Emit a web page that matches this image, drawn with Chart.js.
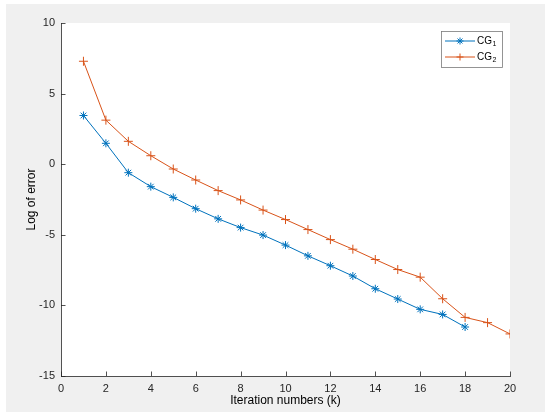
<!DOCTYPE html>
<html>
<head>
<meta charset="utf-8">
<script src="https://cdn.jsdelivr.net/npm/chart.js@4/dist/chart.umd.min.js"></script>
<style>
  body { margin: 0; background: #ffffff; }
  #wrap { width: 550px; height: 417px; }
</style>
</head>
<body>
<div id="wrap"><canvas id="errChart"></canvas></div>
<script>
let iterations1 = [1, 2, 3, 4, 5, 6, 7, 8, 9, 10, 11, 12, 13, 14, 15, 16, 17, 18];
let cg1Errors = [3.45, 1.48, -0.6, -1.59, -2.35, -3.15, -3.87, -4.49, -5.02, -5.73, -6.49, -7.19, -7.92, -8.82, -9.55, -10.28, -10.64, -11.53];
let iterations2 = [1, 2, 3, 4, 5, 6, 7, 8, 9, 10, 11, 12, 13, 14, 15, 16, 17, 18, 19, 20];
let cg2Errors = [7.29, 3.12, 1.62, 0.6, -0.34, -1.12, -1.87, -2.53, -3.25, -3.92, -4.63, -5.34, -6.02, -6.75, -7.46, -8.0, -9.53, -10.85, -11.22, -12.02];
let xTicks = [0, 2, 4, 6, 8, 10, 12, 14, 16, 18, 20];
let yTicks = [-15, -10, -5, 0, 5, 10];

let blue = "#0072BD";
let orange = "#D95319";
let axisColor = "#262626";
let fontName = "'Liberation Sans', Arial, sans-serif";

function toPoints(xs, ys){
    let pts = [];
    for(let i = 0; i < xs.length; i++){
        pts.push({x: xs[i], y: ys[i]});
    }
    return pts;
}

// grey figure background + white axes area
let backgroundPlugin = {
    id: "bg",
    beforeDraw(chart){
        let ctx = chart.ctx;
        let a = chart.chartArea;
        ctx.save();
        ctx.fillStyle = "#ffffff";
        ctx.fillRect(0, 0, chart.width, chart.height);
        ctx.fillStyle = "#f0f0f0";
        ctx.fillRect(6, 4, 539, 408);
        ctx.fillStyle = "#ffffff";
        ctx.fillRect(a.left, a.top, a.right - a.left, a.bottom - a.top);
        ctx.restore();
    }
};

// matlab style ticks pointing inward, and the boxed legend
let extrasPlugin = {
    id: "extras",
    afterDraw(chart){
        let ctx = chart.ctx;
        let a = chart.chartArea;
        let xs = chart.scales.x;
        let ys = chart.scales.y;
        ctx.save();
        ctx.strokeStyle = axisColor;
        ctx.lineWidth = 0.8;
        ctx.beginPath();
        for(let i = 0; i < xTicks.length; i++){
            let px = Math.round(xs.getPixelForValue(xTicks[i])) + 0.5;
            ctx.moveTo(px, a.bottom);
            ctx.lineTo(px, a.bottom - 4.5);
        }
        for(let i = 0; i < yTicks.length; i++){
            let py = Math.round(ys.getPixelForValue(yTicks[i])) + 0.5;
            ctx.moveTo(a.left, py);
            ctx.lineTo(a.left + 4.5, py);
        }
        ctx.stroke();

        // legend
        let lx = 441, ly = 31, lw = 61, lh = 36;
        ctx.fillStyle = "#ffffff";
        ctx.fillRect(lx, ly, lw, lh);
        ctx.strokeStyle = "#7a7a7a";
        ctx.lineWidth = 0.8;
        ctx.strokeRect(lx + 0.5, ly + 0.5, lw, lh);

        let rows = [
            {color: blue, style: "star", sub: "1", y: 41},
            {color: orange, style: "cross", sub: "2", y: 57}
        ];
        for(let i = 0; i < rows.length; i++){
            let r = rows[i];
            ctx.strokeStyle = r.color;
            ctx.lineWidth = 1;
            ctx.beginPath();
            ctx.moveTo(445, r.y);
            ctx.lineTo(475, r.y);
            ctx.stroke();
            Chart.helpers.drawPoint(ctx, {pointStyle: r.style, radius: 3.5, borderWidth: 1}, 460, r.y);
            ctx.fillStyle = "#000000";
            ctx.textBaseline = "middle";
            ctx.textAlign = "left";
            ctx.font = "10px " + fontName;
            ctx.fillText("CG", 477, r.y);
            let w = ctx.measureText("CG").width;
            ctx.font = "7px " + fontName;
            ctx.fillText(r.sub, 477 + w + 0.5, r.y + 3);
        }
        ctx.restore();
    }
};

let errChart = new Chart(document.getElementById("errChart"),
{
    type: "line",
    data: {
        datasets: [
            {
                label: "CG1",
                data: toPoints(iterations1, cg1Errors),
                borderColor: blue,
                backgroundColor: blue,
                borderWidth: 1,
                pointStyle: "star",
                pointRadius: 4,
                pointBorderWidth: 1,
                pointHoverRadius: 4,
                fill: false,
                tension: 0
            },
            {
                label: "CG2",
                data: toPoints(iterations2, cg2Errors),
                borderColor: orange,
                backgroundColor: orange,
                borderWidth: 1,
                pointStyle: "cross",
                pointRadius: 4.5,
                pointBorderWidth: 1,
                pointHoverRadius: 4.5,
                fill: false,
                tension: 0
            }
        ]
    },
    options: {
        responsive: true,
        maintainAspectRatio: false,
        animation: false,
        events: [],
        layout: {
            padding: {left: 0, right: 40, top: 23, bottom: 0}
        },
        plugins: {
            legend: {display: false},
            tooltip: {enabled: false}
        },
        scales: {
            x: {
                type: "linear",
                min: 0,
                max: 20,
                afterBuildTicks(scale){
                    scale.ticks = xTicks.map(v => ({value: v}));
                },
                afterFit(scale){
                    scale.height = 41;
                },
                grid: {display: false, drawTicks: false},
                border: {display: true, color: axisColor, width: 0.8},
                ticks: {
                    color: axisColor,
                    padding: 6,
                    maxRotation: 0,
                    font: {family: fontName, size: 11}
                },
                title: {
                    display: true,
                    text: "Iteration numbers (k)",
                    color: "#000000",
                    padding: {top: 0, bottom: 9},
                    font: {family: fontName, size: 12}
                }
            },
            y: {
                type: "linear",
                min: -15,
                max: 10,
                afterBuildTicks(scale){
                    scale.ticks = yTicks.map(v => ({value: v}));
                },
                afterFit(scale){
                    scale.width = 61;
                },
                grid: {display: false, drawTicks: false},
                border: {display: true, color: axisColor, width: 0.8},
                ticks: {
                    color: axisColor,
                    padding: 6,
                    font: {family: fontName, size: 11}
                },
                title: {
                    display: true,
                    text: "Log of error",
                    color: "#000000",
                    padding: {top: 24, bottom: 0},
                    font: {family: fontName, size: 12}
                }
            }
        }
    },
    plugins: [backgroundPlugin, extrasPlugin]
}
);
</script>
</body>
</html>
